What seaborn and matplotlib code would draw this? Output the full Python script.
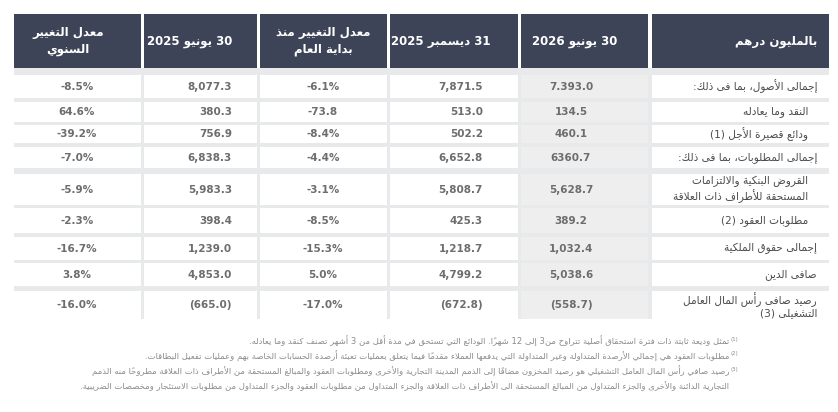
import matplotlib
matplotlib.use("Agg")
import matplotlib.pyplot as plt
from matplotlib.patches import Rectangle
import seaborn as sns

# ---- table content ----
header_labels = ["بالمليون درهم", "30 يونيو 2026", "31 ديسمبر 2025",
                 "معدل التغيير منذ\nبداية العام", "30 يونيو 2025",
                 "معدل التغيير\nالسنوي"]

row_labels = ["إجمالى الأصول، بما فى ذلك:",
              "النقد وما يعادله",
              "ودائع قصيرة الأجل (1)",
              "إجمالى المطلوبات، بما فى ذلك:",
              "القروض البنكية والالتزامات\nالمستحقة للأطراف ذات العلاقة",
              "مطلوبات العقود (2)",
              "إجمالى حقوق الملكية",
              "صافى الدين",
              "رصيد صافى رأس المال العامل\nالتشغيلى (3)"]
row_indented = [False, True, True, False, True, True, False, False, False]

jun_2026 = ["7.393.0", "134.5", "460.1", "6360.7", "5,628.7",
            "389.2", "1,032.4", "5,038.6", "(558.7)"]
dec_2025 = ["7,871.5", "513.0", "502.2", "6,652.8", "5,808.7",
            "425.3", "1,218.7", "4,799.2", "(672.8)"]
ytd_change = ["-6.1%", "-73.8", "-8.4%", "-4.4%", "-3.1%",
              "-8.5%", "-15.3%", "5.0%", "-17.0%"]
jun_2025 = ["8,077.3", "380.3", "756.9", "6,838.3", "5,983.3",
            "398.4", "1,239.0", "4,853.0", "(665.0)"]
yoy_change = ["-8.5%", "64.6%", "-39.2%", "-7.0%", "-5.9%",
              "-2.3%", "-16.7%", "3.8%", "-16.0%"]

footnote_marks = ["(1)", "(2)", "(3)", ""]
footnotes = [
    "تمثل وديعة ثابتة ذات فترة استحقاق أصلية تتراوح من3 إلى 12 شهراً. الودائع التي تستحق في مدة أقل من 3 أشهر تصنف كنقد وما يعادله.",
    "مطلوبات العقود هي إجمالي الأرصدة المتداولة وغير المتداولة التي يدفعها العملاء مقدماً فيما يتعلق بعمليات تعبئة أرصدة الحسابات الخاصة بهم وعمليات تفعيل البطاقات.",
    "رصيد صافي رأس المال العامل التشغيلي هو رصيد المخزون مضافاً إلى الذمم المدينة التجارية والأخرى ومطلوبات العقود والمبالغ المستحقة من الأطراف ذات العلاقة مطروحاً منه الذمم",
    "التجارية الدائنة والأخرى والجزء المتداول من المبالغ المستحقة الى الأطراف ذات العلاقة والجزء المتداول من مطلوبات العقود والجزء المتداول من مطلوبات الاستئجار ومخصصات الضريبية.",
]

# ---- minimal arabic shaping (matplotlib has no bidi / joining) ----
FORMS = {
    "ء": (0xFE80, 1), "آ": (0xFE81, 2), "أ": (0xFE83, 2), "ؤ": (0xFE85, 2),
    "إ": (0xFE87, 2), "ئ": (0xFE89, 4), "ا": (0xFE8D, 2), "ب": (0xFE8F, 4),
    "ة": (0xFE93, 2), "ت": (0xFE95, 4), "ث": (0xFE99, 4), "ج": (0xFE9D, 4),
    "ح": (0xFEA1, 4), "خ": (0xFEA5, 4), "د": (0xFEA9, 2), "ذ": (0xFEAB, 2),
    "ر": (0xFEAD, 2), "ز": (0xFEAF, 2), "س": (0xFEB1, 4), "ش": (0xFEB5, 4),
    "ص": (0xFEB9, 4), "ض": (0xFEBD, 4), "ط": (0xFEC1, 4), "ظ": (0xFEC5, 4),
    "ع": (0xFEC9, 4), "غ": (0xFECD, 4), "ف": (0xFED1, 4), "ق": (0xFED5, 4),
    "ك": (0xFED9, 4), "ل": (0xFEDD, 4), "م": (0xFEE1, 4), "ن": (0xFEE5, 4),
    "ه": (0xFEE9, 4), "و": (0xFEED, 2), "ى": (0xFEEF, 2), "ي": (0xFEF1, 4),
}
LAM_ALEF = {"آ": 0xFEF5, "أ": 0xFEF7, "إ": 0xFEF9, "ا": 0xFEFB}
MARKS = set("\u064B\u064C\u064D\u064E\u064F\u0650\u0651\u0652")


def join_kind(b):
    if b is None:
        return None
    if len(b) == 3 and b.startswith("LA"):
        return "R"
    if b in FORMS:
        n = FORMS[b][1]
        return "D" if n == 4 else ("R" if n == 2 else "U")
    return None


def visual_line(s):
    units = []
    for ch in s:
        if ch in MARKS and units:
            units[-1][1] += ch
        else:
            units.append([ch, ""])
    merged = []
    i = 0
    while i < len(units):
        b, m = units[i]
        if b == "ل" and i + 1 < len(units) and units[i + 1][0] in LAM_ALEF:
            merged.append(["LA" + units[i + 1][0], m + units[i + 1][1]])
            i += 2
        else:
            merged.append([b, m])
            i += 1
    glyphs = []
    for i, (b, m) in enumerate(merged):
        k = join_kind(b)
        prev = join_kind(merged[i - 1][0]) if i > 0 else None
        nxt = join_kind(merged[i + 1][0]) if i + 1 < len(merged) else None
        jp = int(k in ("D", "R") and prev == "D")
        jn = int(k == "D" and nxt in ("D", "R"))
        if k is None:
            g = b
        elif b.startswith("LA"):
            g = chr(LAM_ALEF[b[2]] + jp)
        else:
            base, n = FORMS[b]
            if n == 1:
                g = chr(base)
            elif n == 2:
                g = chr(base + jp)
            else:
                g = chr(base + (3 if jp and jn else 2 if jn else 1 if jp else 0))
        glyphs.append(g + m)
    glyphs.reverse()
    glyphs = [{"(": ")", ")": "("}.get(g, g) for g in glyphs]
    out, run = [], []
    for g in glyphs:
        if g.isdigit():
            run.append(g)
        else:
            out.extend(reversed(run))
            run = []
            out.append(g)
    out.extend(reversed(run))
    return "".join(out)


def ar(text):
    return "\n".join(visual_line(line) for line in text.split("\n"))


# ---- style ----
sns.set_theme(style="white")
plt.rcParams["font.family"] = ["DejaVu Sans"]

HEAD_BG = "#3d4457"
BAND = "#e8e9eb"
CELL = "#ffffff"
CELL_HL = "#eeeeee"
NUM_COLOR = "#6d6d6d"
LABEL_COLOR = "#4d4d4d"
NOTE_COLOR = "#8c8c8c"

# column spans, right to left: label, jun26, dec25, ytd, jun25, yoy
col_span = [(652, 829), (521, 648), (390, 518), (260, 387), (144, 257), (14, 141)]
head_anchor = [(817, "right"), (575, "center"), (490, "right"),
               (323, "center"), (232, "right"), (68, "center")]
data_anchor = [None, (571, "center"), (483, "right"),
               (323, "center"), (232, "right"), (77, "center")]
head_top, head_bot = 14, 68
row_top = [75, 102, 125, 147, 174, 208, 237, 263, 291]
row_bot = [98, 122, 143, 168, 205, 233, 260, 286, 319]
note_y = [341, 356, 371, 386]

fig = plt.figure(figsize=(8.38, 4.12), dpi=100)
ax = fig.add_axes([0, 0, 1, 1])
ax.set_xlim(0, 838)
ax.set_ylim(412, 0)
ax.axis("off")

# header
for (x0, x1), lab, (tx, ha) in zip(col_span, header_labels, head_anchor):
    ax.add_patch(Rectangle((x0, head_top), x1 - x0, head_bot - head_top,
                           color=HEAD_BG, lw=0))
    ax.text(tx, (head_top + head_bot) / 2, ar(lab), ha=ha, va="center",
            multialignment=ha, color="white", fontsize=8.5,
            fontweight="bold", linespacing=1.35)

# body background bands
ax.add_patch(Rectangle((col_span[-1][0], head_bot),
                       col_span[0][1] - col_span[-1][0], row_bot[-1] - head_bot,
                       color=BAND, lw=0))

columns = [None, jun_2026, dec_2025, ytd_change, jun_2025, yoy_change]
for r in range(len(row_labels)):
    y0, y1 = row_top[r], row_bot[r]
    yc = (y0 + y1) / 2
    for c, (x0, x1) in enumerate(col_span):
        ax.add_patch(Rectangle((x0, y0), x1 - x0, y1 - y0,
                               color=CELL_HL if c == 1 else CELL, lw=0))
        if c == 0:
            lx = 808 if row_indented[r] else 817
            ax.text(lx, yc, ar(row_labels[r]), ha="right", va="center",
                    multialignment="right", color=LABEL_COLOR, fontsize=7.6,
                    linespacing=1.2)
        else:
            tx, ha = data_anchor[c]
            ax.text(tx, yc, columns[c][r], ha=ha, va="center",
                    color=NUM_COLOR, fontsize=7.5, fontweight="bold")

# footnotes
for mark, note, y in zip(footnote_marks, footnotes, note_y):
    ax.text(729, y, ar(note), ha="right", va="center", color=NOTE_COLOR,
            fontsize=6.1)
    if mark:
        ax.text(738, y - 2, mark, ha="right", va="center", color=NOTE_COLOR,
                fontsize=4)

fig.savefig("out.png", dpi=100)
